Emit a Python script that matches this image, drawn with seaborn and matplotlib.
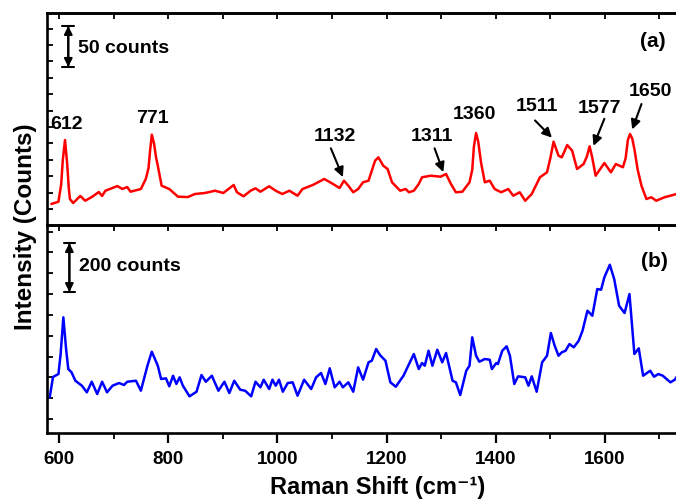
import matplotlib
matplotlib.use("Agg")
import matplotlib.pyplot as plt
from matplotlib.ticker import MultipleLocator
import seaborn as sns
import pandas as pd

# ---------------- data ----------------
shift_a = [586, 599, 604, 607, 611, 615, 618, 620, 626, 639, 648, 660, 673, 679, 685, 707, 716, 725,
           731, 750, 759, 764, 767, 770, 774, 778, 781, 788, 802, 818, 836, 849, 867, 886, 901, 920,
           926, 938, 951, 960, 969, 985, 997, 1009, 1022, 1037, 1046, 1065, 1086, 1102, 1114, 1122,
           1130, 1139, 1148, 1157, 1167, 1179, 1185, 1194, 1202, 1210, 1225, 1235, 1241, 1250, 1259,
           1265, 1281, 1299, 1309, 1318, 1327, 1339, 1352, 1357, 1360, 1364, 1368, 1373, 1380, 1389,
           1398, 1410, 1423, 1432, 1444, 1454, 1466, 1481, 1494, 1500, 1506, 1515, 1521, 1531, 1540,
           1549, 1561, 1567, 1572, 1577, 1583, 1599, 1611, 1620, 1633, 1638, 1642, 1646, 1650, 1654,
           1660, 1667, 1676, 1685, 1694, 1709, 1725, 1741]
counts_a = [6.1, 8.9, 30, 60, 84.1, 55, 25, 12.2, 7.3, 15.9, 10.1, 14.6, 20.7, 15.9, 22.3, 28.0, 24.4,
            26.8, 21.1, 24.4, 36.6, 50, 72, 90.6, 80, 62, 52.8, 28.4, 24.4, 15.0, 14.6, 18.3, 19.5,
            22.3, 19.5, 29.3, 20.4, 15.5, 22.3, 25.2, 21.1, 27.7, 22.3, 18.3, 22.3, 16.2, 24.4, 29.3,
            36.6, 30.5, 25.6, 34.5, 28.4, 20.4, 24.4, 32.6, 34.5, 58.9, 63.0, 52.8, 48.8, 32.6, 22.3,
            24.4, 20.4, 22.3, 30.5, 38.7, 40.6, 39.4, 42.7, 30.5, 20.4, 21.1, 32.6, 48, 76, 92.7, 82,
            57.0, 32.6, 34.5, 24.4, 20.4, 24.4, 16.2, 20.4, 10.1, 18.3, 38.7, 44.8, 62, 82.1, 65.0,
            63.0, 78.0, 71.1, 48.8, 54.9, 64, 76.5, 62, 40.6, 56.1, 44.8, 54.9, 50.9, 62, 84, 91.5,
            86, 73.2, 48, 28.4, 12.2, 14.3, 10.1, 14.3, 17.1, 20.4]

shift_b = [583, 589, 599, 603, 608, 613, 617, 623, 630, 642, 651, 660, 670, 679, 688, 698, 710, 719,
           725, 741, 750, 762, 770, 781, 787, 796, 802, 809, 815, 821, 827, 839, 852, 861, 869, 880,
           892, 903, 912, 921, 932, 941, 952, 960, 969, 975, 985, 991, 997, 1003, 1010, 1019, 1028,
           1037, 1049, 1062, 1071, 1080, 1088, 1096, 1105, 1114, 1120, 1130, 1139, 1148, 1157, 1167,
           1173, 1181, 1188, 1198, 1207, 1217, 1231, 1250, 1259, 1265, 1270, 1277, 1284, 1293, 1302,
           1309, 1321, 1327, 1335, 1346, 1352, 1357, 1364, 1370, 1380, 1389, 1393, 1401, 1404, 1412,
           1420, 1426, 1434, 1441, 1454, 1460, 1466, 1475, 1485, 1494, 1501, 1508, 1515, 1521, 1528,
           1535, 1543, 1552, 1559, 1568, 1577, 1586, 1593, 1599, 1609, 1617, 1626, 1636, 1645, 1654,
           1662, 1670, 1683, 1690, 1698, 1706, 1720, 1728, 1741]
counts_b = [88.6, 171.4, 183.7, 265, 415.1, 285.7, 204.1, 190.6, 156.3, 135.9, 109.0, 152.2, 102.0,
            152.2, 109.0, 135.9, 146.9, 138.8, 152.2, 156.3, 115.5, 217.6, 274.7, 217.6, 163.3, 166.1,
            133.5, 176.7, 142.9, 170.2, 135.9, 92.7, 111.4, 179.6, 152.2, 176.7, 115.5, 152.2, 106.1,
            156.3, 119.6, 115.5, 92.7, 152.2, 129.4, 160.4, 122.4, 160.4, 135.9, 160.4, 111.4, 146.9,
            149.8, 95.1, 160.4, 122.4, 170.2, 187.8, 142.9, 206.9, 129.4, 152.2, 129.4, 149.8, 111.4,
            211.0, 160.4, 231.4, 238.0, 285.7, 261.2, 238.0, 149.8, 131.8, 176.7, 265.3, 204.1, 228.6,
            217.6, 278.8, 217.6, 282.9, 231.4, 269.4, 156.3, 149.8, 98.0, 197.1, 217.6, 333.5, 258.4,
            233.9, 244.9, 242.0, 204.1, 228.6, 224.5, 278.8, 296.7, 258.4, 142.9, 174.3, 170.2, 135.9,
            174.3, 111.4, 231.4, 258.4, 351.0, 299.2, 258.4, 272.2, 278.8, 306.1, 292.7, 319.6, 360.4,
            442.0, 421.6, 530.6, 527.8, 578.4, 629.8, 571.4, 462.4, 432.7, 510.2, 265.3, 288.6, 176.7,
            197.1, 172.7, 183.7, 176.7, 149.8, 160.4, 204.1]

peak_labels = ["612", "771", "1132", "1311", "1360", "1511", "1577", "1650"]
x_ticks = [600, 800, 1000, 1200, 1400, 1600]

# ---------------- style ----------------
sns.set_theme(style="white")
plt.rcParams["font.family"] = ["Liberation Sans", "DejaVu Sans"]
plt.rcParams["font.weight"] = "bold"
plt.rcParams["text.color"] = "black"
plt.rcParams["axes.labelcolor"] = "black"
plt.rcParams["xtick.color"] = "black"
plt.rcParams["ytick.color"] = "black"

fig = plt.figure(figsize=(6.76, 5.02), dpi=100)
left, width = 0.0695, 0.94
ax_a = fig.add_axes([left, 0.5498, width, 0.4223])
ax_b = fig.add_axes([left, 0.1355, width, 0.4143])
ax_b.patch.set_visible(False)

df_a = pd.DataFrame({"shift": shift_a, "counts": counts_a})
df_b = pd.DataFrame({"shift": shift_b, "counts": counts_b})
sns.lineplot(data=df_a, x="shift", y="counts", ax=ax_a, color="#ff0000", lw=1.8, sort=False)
sns.lineplot(data=df_b, x="shift", y="counts", ax=ax_b, color="#0000ff", lw=1.8, sort=False)

for ax in (ax_a, ax_b):
    ax.set_xlim(578, 1742)
    ax.set_xlabel("")
    ax.set_ylabel("")
    for s in ax.spines.values():
        s.set_linewidth(1.9)
        s.set_color("black")
    ax.tick_params(axis="y", which="both", left=True, right=False, direction="in",
                   length=4, width=1.3, labelleft=False, color="black")

ax_a.set_ylim(-19.5, 239)
ax_b.set_ylim(-57, 792)
ax_a.yaxis.set_major_locator(MultipleLocator(20))
ax_b.yaxis.set_major_locator(MultipleLocator(85))

# top panel: ticks every 100 at top (inward) and along divider (into panel b)
ax_a.xaxis.set_major_locator(MultipleLocator(100))
ax_a.tick_params(axis="x", which="both", bottom=True, top=False, direction="out",
                 length=4, width=1.3, labelbottom=False, color="black")
sec = ax_a.secondary_xaxis("top")
sec.xaxis.set_major_locator(MultipleLocator(100))
sec.tick_params(axis="x", direction="in", length=4, width=1.3, labeltop=False, color="black")
sec.spines["top"].set_linewidth(1.9)

# bottom panel x axis
ax_b.set_xticks(x_ticks)
ax_b.xaxis.set_minor_locator(MultipleLocator(100))
ax_b.tick_params(axis="x", which="major", bottom=True, direction="out", length=7, width=1.6,
                 labelsize=13.5, pad=5, color="black")
ax_b.tick_params(axis="x", which="minor", bottom=True, direction="out", length=4, width=1.3,
                 color="black")
for lab in ax_b.get_xticklabels():
    lab.set_fontweight("bold")

ax_b.set_xlabel("Raman Shift (cm\u207b\u00b9)", fontsize=17, fontweight="bold")
ax_b.xaxis.set_label_coords(0.52, -0.2)
fig.text(0.037, 0.548, "Intensity (Counts)", rotation=90, ha="center", va="center",
         fontsize=17.5, fontweight="bold")

# ---------------- annotations ----------------
fs = 14
ax_a.text(614, 104, peak_labels[0], ha="center", va="center", fontsize=fs, fontweight="bold")
ax_a.text(772, 112, peak_labels[1], ha="center", va="center", fontsize=fs, fontweight="bold")
ax_a.text(1361, 116, peak_labels[4], ha="center", va="center", fontsize=fs, fontweight="bold")

arrow_kw = dict(arrowstyle="-|>", color="black", lw=1.5, mutation_scale=14, shrinkA=0, shrinkB=0)
arrowed = [
    (peak_labels[2], (1105, 90), (1098, 74), (1120, 39)),
    (peak_labels[3], (1284, 90), (1288, 74), (1304, 45)),
    (peak_labels[5], (1475, 126), (1472, 108), (1503, 87)),
    (peak_labels[6], (1590, 124), (1599, 110), (1579, 77)),
    (peak_labels[7], (1683, 144), (1667, 128), (1650, 97)),
]
for txt, tpos, start, tip in arrowed:
    ax_a.text(tpos[0], tpos[1], txt, ha="center", va="center", fontsize=fs, fontweight="bold")
    ax_a.annotate("", xy=tip, xytext=start, arrowprops=arrow_kw)

ax_a.text(1688, 205, "(a)", ha="center", va="center", fontsize=15, fontweight="bold")
ax_b.text(1691, 646, "(b)", ha="center", va="center", fontsize=15, fontweight="bold")

# scale bars
def scale_bar(ax, x, y0, y1, label, ytext):
    ax.annotate("", xy=(x, y1), xytext=(x, y0),
                arrowprops=dict(arrowstyle="<|-|>", color="black", lw=1.5,
                                mutation_scale=12, shrinkA=0, shrinkB=0))
    ax.annotate("", xy=(x, y1), xytext=(x, y0),
                arrowprops=dict(arrowstyle="|-|,widthA=0.35,widthB=0.35", color="black", lw=1.5,
                                mutation_scale=12, shrinkA=0, shrinkB=0))
    ax.text(x + 17, ytext, label, ha="left", va="center", fontsize=fs, fontweight="bold")

scale_bar(ax_a, 617, 173.2, 223.2, "50 counts", 197)
scale_bar(ax_b, 619, 518.4, 718.4, "200 counts", 625)

fig.savefig("out.png", dpi=100)
